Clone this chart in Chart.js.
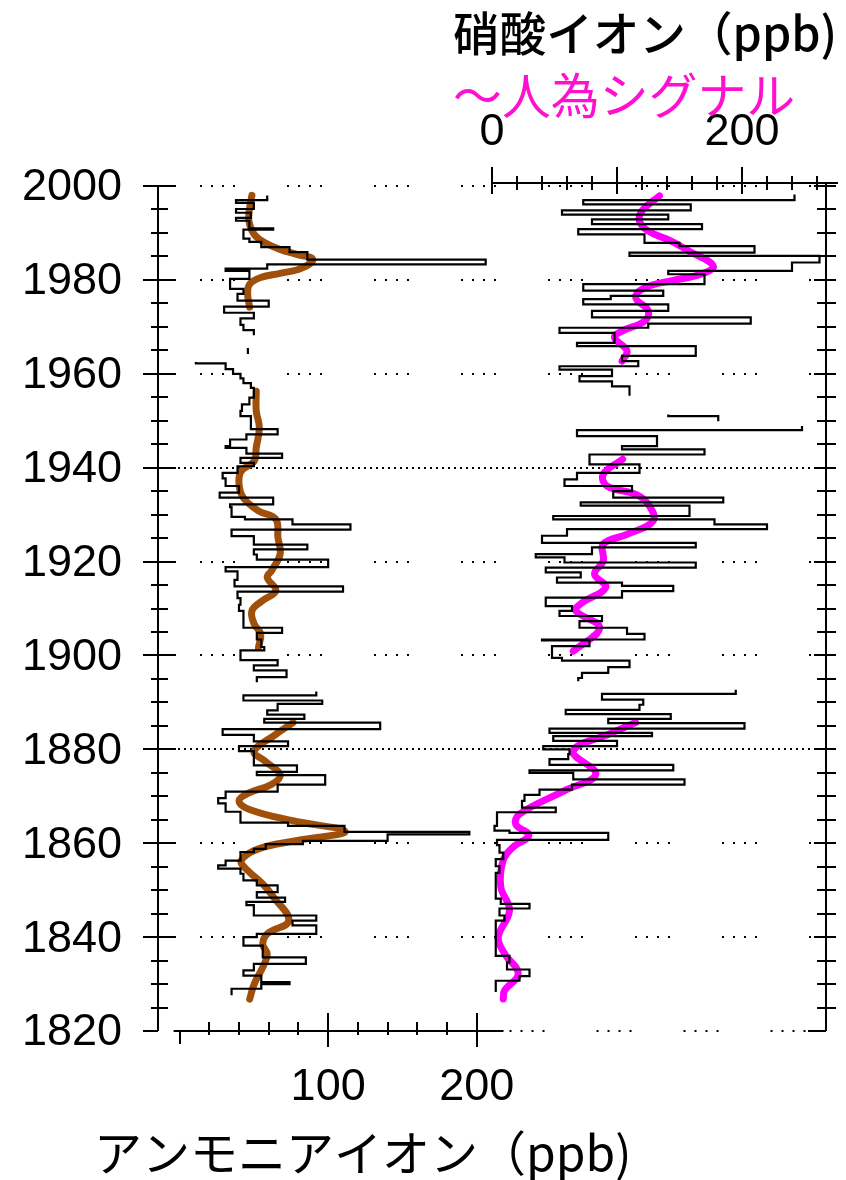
<!DOCTYPE html>
<html>
<head>
<meta charset="utf-8">
<script src="https://cdn.jsdelivr.net/npm/chart.js@4/dist/chart.umd.min.js"></script>
<style>
  body { margin: 0; background: #fff; }
  canvas { display: block; }
</style>
</head>
<body>
<canvas id="chart1" width="846" height="1180"></canvas>
<script>
// ammonium ion steps: value held from year[i] down to year[i+1] (null = no data)
var nh4Years = [1998.0, 1997.0, 1996.4, 1995.1, 1994.3, 1993.2, 1992.6, 1991.0, 1990.7, 1988.8,
  1988.1, 1987.0, 1985.9, 1984.3, 1983.3, 1982.4, 1981.9, 1980.2, 1978.1, 1977.0,
  1975.6, 1974.3, 1973.0, 1971.8, 1970.4, 1969.3, 1968.2, 1965.5, 1964.2, 1962.5,
  1962.2, 1961.0, 1960.0, 1959.0, 1958.0, 1957.0, 1954.9, 1953.5, 1952.1, 1951.0,
  1948.2, 1947.1, 1946.0, 1944.6, 1944.2, 1943.0, 1942.1, 1941.0, 1940.3, 1938.9,
  1937.7, 1936.1, 1934.7, 1933.6, 1932.2, 1931.6, 1929.5, 1929.0, 1927.9, 1926.8,
  1925.4, 1923.6, 1922.6, 1921.5, 1920.4, 1918.8, 1917.9, 1916.1, 1914.7, 1913.6,
  1912.2, 1910.8, 1909.5, 1905.9, 1904.8, 1903.4, 1901.8, 1901.1, 1899.0, 1897.9,
  1896.8, 1895.4, 1894.3, 1892.3, 1891.5, 1890.4, 1889.7, 1888.3, 1887.4, 1886.5,
  1885.7, 1884.3, 1883.1, 1881.7, 1880.7, 1879.6, 1876.6, 1875.2, 1874.5, 1872.5,
  1871.0, 1869.6, 1868.5, 1866.7, 1864.4, 1863.7, 1862.4, 1861.9, 1860.5, 1859.8,
  1858.8, 1858.1, 1856.3, 1855.3, 1854.6, 1853.5, 1852.1, 1851.0, 1849.6, 1848.4,
  1847.5, 1846.8, 1844.6, 1843.5, 1842.5, 1840.7, 1840.0, 1838.2, 1835.7, 1834.3,
  1832.9, 1831.8, 1830.4, 1830.0, 1829.0, 1827.6];
var nh4Ppb = [59, 38, 50, 38, 48, 38, 47, 63, 43, 47,
  55, 74, 86, 206, 59, 31, 47, 34, 43, 39,
  60, 30, 50, 41, 43, 50, null, 46, null, 11,
  31, 36, 41, 43, 48, 50, 47, 42, 41, 48,
  66, 45, 34, 31, 45, 69, 41, 50, 39, 29,
  31, 40, 27, 63, 34, 35, 44, 76, 115, 35,
  50, 86, 50, 52, 100, 31, 39, 37, 110, 39,
  41, 40, 43, 69, 52, 55, 57, 41, 66, 50,
  72, 52, null, 92, 43, 96, 66, 59, 84, 57,
  135, 29, 50, 73, 40, 50, 79, 52, 98, 66,
  31, 26, 31, 41, 73, 111, 195, 140, 83, 58,
  50, 41, 31, 26, 41, 43, 52, 66, 52, 71,
  45, 50, 92, 76, 92, 52, 43, 56, 85, 50,
  43, 55, 74, 55, 35];

// nitrate ion steps
var no3Years = [1998.2, 1997.0, 1996.1, 1994.8, 1993.9, 1992.9, 1991.9, 1990.8, 1989.7, 1987.9,
  1987.2, 1985.8, 1985.1, 1983.7, 1981.9, 1981.2, 1979.1, 1977.7, 1976.6, 1975.9,
  1974.8, 1973.4, 1972.0, 1970.7, 1969.8, 1968.7, 1966.6, 1965.9, 1963.8, 1962.7,
  1961.6, 1960.9, 1959.5, 1958.4, 1957.3, 1955.3, 1951.3, 1951.0, 1949.9, 1948.9,
  1948.0, 1946.7, 1944.6, 1943.9, 1942.8, 1940.7, 1938.9, 1937.5, 1936.1, 1935.0,
  1933.6, 1932.6, 1931.9, 1929.7, 1929.0, 1927.9, 1926.9, 1925.5, 1924.0, 1923.0,
  1921.6, 1920.9, 1919.8, 1918.7, 1917.7, 1916.6, 1915.5, 1914.8, 1913.7, 1912.3,
  1910.5, 1909.5, 1908.4, 1907.3, 1905.9, 1904.6, 1903.4, 1903.2, 1902.0, 1899.5,
  1898.9, 1897.5, 1896.3, 1895.2, 1894.5, 1892.7, 1891.8, 1890.6, 1889.5, 1888.4,
  1887.5, 1886.5, 1885.6, 1884.4, 1883.5, 1882.8, 1881.8, 1880.7, 1880.0, 1879.0,
  1877.9, 1876.7, 1875.5, 1875.0, 1873.6, 1872.5, 1871.4, 1870.3, 1869.0, 1867.6,
  1866.6, 1863.7, 1862.7, 1862.2, 1860.7, 1859.6, 1858.0, 1856.6, 1855.1, 1853.7,
  1848.2, 1847.1, 1846.1, 1844.6, 1843.5, 1836.0, 1834.6, 1833.1, 1831.7, 1830.7,
  1828.3];
var no3Ppb = [242, 73, 159, 56, 141, 80, 168, 69, 122, 150,
  210, 110, 262, 240, 141, 170, 73, 137, 95, 73,
  141, 80, 207, 125, 54, 98, 68, 163, 104, 117,
  54, 96, 70, 96, 110, null, 141, 181, null, 248,
  68, 132, 104, 170, 78, 118, 68, 58, 112, 97,
  185, 71, 158, 49, 178, 220, 60, 40, 163, 80,
  35, 58, 163, 43, 71, 52, 104, 145, 104, 43,
  64, 54, 88, 70, 108, 122, 40, 78, 48, 56,
  110, 93, 72, 69, null, 195, 88, 121, 118, 59,
  143, 93, 202, 46, 128, 49, 100, 41, 62, 61,
  46, 145, 30, 65, 154, 64, 38, 26, 24, 51,
  4, 2, 14, 93, 4, 6, 9, 3, 6, 3,
  7, 30, 6, 10, 3, 14, 12, 30, 22, 3];

// smoothed curves (null = break)
var nh4SmoothYears = [1998.0, 1995.4, 1992.5, 1989.7, 1987.9, 1986.5, 1985.4, 1984.4, 1982.5, 1981.4,
  1980.5, 1979.1, 1977.0, 1974.2, 1965,
  1956.3, 1952.1, 1948.5, 1944.3, 1941.4, 1939.3, 1936.5, 1933.6, 1930.8, 1929.0,
  1925.1, 1921.6, 1918.0, 1916.6, 1913.8, 1911.5, 1909.5, 1906.7, 1904.6, 1901.7, 1894,
  1885.7, 1883.2, 1879.6, 1877.5, 1874.6, 1872.5, 1870.8, 1869.0, 1867.2, 1864.8,
  1862.5, 1860.6, 1858.8, 1856.3, 1854.2, 1851.3, 1848.5, 1843.5, 1840.7, 1838.5,
  1836.4, 1833.6, 1830.0, 1826.8];
var nh4SmoothPpb = [48.7, 47.2, 46.7, 50.2, 57.5, 67.6, 79.3, 89.6, 82.3, 67.6,
  54.6, 47.2, 45.8, 47.2, null,
  51.6, 51.6, 53.7, 51.6, 50.2, 41.5, 40, 42.9, 53.1, 64.8,
  66.2, 67.7, 61.8, 59, 64.8, 55, 48.7, 50.2, 54.6, 53.1, null,
  76.4, 64.8, 50.2, 57.5, 67.7, 61.8, 47.2, 40, 47, 76,
  111.4, 79.3, 53.1, 41.5, 45.8, 56, 63.3, 73.5, 59, 56,
  59, 56, 50.2, 47.2];
var no3SmoothYears = [1997.9, 1994.7, 1992.5, 1990.4, 1988.3, 1986.2, 1983.0, 1981.2, 1979.8, 1978.3,
  1976.2, 1973.4, 1971.2, 1969.1, 1967.7, 1964.9, 1962.7, 1950,
  1941.8, 1938.6, 1936.1, 1934.3, 1932.2, 1928.7, 1925.8, 1923.7, 1920.1, 1917.3,
  1914.5, 1911.2, 1909.5, 1905.9, 1900.9, 1894,
  1885.7, 1883.3, 1879.6, 1874.7, 1871.2, 1866.2, 1864.0, 1861.7, 1859.2, 1856.4,
  1850.7, 1845.7, 1840.0, 1836.5, 1832.2, 1828.6, 1826.8];
var no3SmoothPpb = [134, 120, 118, 125, 143, 157, 177, 167, 143, 122,
  115, 125, 122, 104, 98, 108, 104, null,
  104.5, 89, 92, 115, 125, 129, 108, 89, 89, 82,
  91, 72, 67, 86, 65, null,
  115, 94, 65, 83, 58, 22, 19, 29.5, 17, 9,
  7, 14, 5, 10, 21, 10, 9];

var yearTicks = [2000, 1980, 1960, 1940, 1920, 1900, 1880, 1860, 1840, 1820];
var refYears = [1940, 1880];
var nh4TickLabels = [100, 200];
var no3TickLabels = [0, 200];

function stepPoints(years, vals) {
  var pts = [];
  for (var i = 0; i < vals.length; i++) {
    if (vals[i] === null) { pts.push({x: null, y: years[i]}); continue; }
    pts.push({x: vals[i], y: years[i]});
    if (i + 1 === vals.length || vals[i + 1] === null) pts.push({x: vals[i], y: years[i + 1]});
  }
  return pts;
}

function curvePoints(years, vals) {
  return years.map(function(y, i) { return {x: vals[i], y: y}; });
}

function fitText(ctx, text, x, y, width, family, color, weight) {
  ctx.save();
  var w = weight ? weight + ' ' : '';
  ctx.font = w + '40px ' + family;
  var size = 40 * width / ctx.measureText(text).width;
  ctx.font = w + size.toFixed(1) + 'px ' + family;
  ctx.fillStyle = color;
  ctx.textAlign = 'left';
  ctx.textBaseline = 'middle';
  ctx.fillText(text, x, y);
  ctx.restore();
}

function hline(ctx, x1, x2, y, dash, w) {
  ctx.save();
  ctx.setLineDash(dash || []);
  ctx.lineWidth = w || 2;
  ctx.beginPath();
  ctx.moveTo(x1, y);
  ctx.lineTo(x2, y);
  ctx.stroke();
  ctx.restore();
}

function vline(ctx, x, y1, y2, w) {
  ctx.save();
  ctx.lineWidth = w || 2;
  ctx.beginPath();
  ctx.moveTo(x, y1);
  ctx.lineTo(x, y2);
  ctx.stroke();
  ctx.restore();
}

var frame = {
  id: 'frame',
  beforeDatasetsDraw: function(chart) {
    var ctx = chart.ctx, ys = chart.scales.y, xb = chart.scales.x;
    ctx.strokeStyle = '#000';
    yearTicks.forEach(function(yr) {
      var py = Math.round(ys.getPixelForValue(yr));
      if (refYears.indexOf(yr) >= 0) {
        hline(ctx, 172, 812, py, [2, 4], 2);
      } else {
        var start = yr === 1820 ? xb.getPixelForValue(218) + 6 : 200;
        hline(ctx, start, 812, py, [2, 9, 2, 9, 2, 9, 2, 52], 2);
      }
    });
  },
  afterDatasetsDraw: function(chart) {
    var ctx = chart.ctx, a = chart.chartArea;
    var ys = chart.scales.y, xb = chart.scales.x, xt = chart.scales.x2;
    ctx.strokeStyle = '#000';
    // left and right year axes
    vline(ctx, a.left, ys.getPixelForValue(2000), ys.getPixelForValue(1820), 2);
    vline(ctx, a.right, xt.bottom - 3, ys.getPixelForValue(1820), 2);
    for (var yr = 1820; yr <= 2000; yr += 5) {
      var py = Math.round(ys.getPixelForValue(yr));
      var major = yr % 20 === 0;
      if (yr === 1820) {
        hline(ctx, a.left - 15, a.left, py, [], 2);
        hline(ctx, a.right - 18, a.right, py, [], 2);
      } else if (major) {
        hline(ctx, a.left - 15, a.left + 18, py, [], 2);
        hline(ctx, a.right - 12, a.right + 10, py, [], 2);
      } else {
        hline(ctx, a.left - 7, a.left + 10, py, [], 2);
        hline(ctx, a.right - 9, a.right + 10, py, [], 2);
      }
    }
    // top nitrate axis
    var ty = a.top - 3;
    hline(ctx, xt.getPixelForValue(0), a.right + 12, ty, [], 2);
    for (var v = 0; v <= 260; v += 20) {
      var px = Math.round(xt.getPixelForValue(v));
      if (v % 100 === 0) vline(ctx, px, ty - 16, ty + 11, 2);
      else vline(ctx, px, ty - 7, ty + 7, 2);
    }
    // bottom ammonium axis
    var by = a.bottom;
    hline(ctx, xb.getPixelForValue(-4), xb.getPixelForValue(218), by, [], 2);
    for (var w = 0; w <= 200; w += 20) {
      var qx = Math.round(xb.getPixelForValue(w));
      if (w === 0) vline(ctx, qx, by, by + 13, 2);
      else if (w % 100 === 0) vline(ctx, qx, by - 18, by + 16, 2);
      else vline(ctx, qx, by - 9, by + 4, 2);
    }
    // titles
    var jp = '"Noto Sans CJK JP", sans-serif';
    fitText(ctx, '硝酸イオン（ppb)', 453, 33, 384, jp, '#000', '500');
    fitText(ctx, '〜人為シグナル', 453, 95, 342, jp, '#ff10d0');
    fitText(ctx, 'アンモニアイオン（ppb)', 94, 1153, 537, jp, '#000');
  }
};

var numFont = {family: '"Liberation Sans", Arial, sans-serif', size: 45};

var ctx = document.getElementById('chart1').getContext('2d');
var chart1 = new Chart(ctx, {
  type: 'line',
  data: {
    datasets: [{
      label: 'NH4 steps',
      data: stepPoints(nh4Years, nh4Ppb),
      xAxisID: 'x', yAxisID: 'y',
      stepped: 'after',
      borderColor: '#000', borderWidth: 2.2,
      pointRadius: 0, fill: false, spanGaps: false
    }, {
      label: 'NO3 steps',
      data: stepPoints(no3Years, no3Ppb),
      xAxisID: 'x2', yAxisID: 'y',
      stepped: 'after',
      borderColor: '#000', borderWidth: 2.2,
      pointRadius: 0, fill: false, spanGaps: false
    }, {
      label: 'NH4 smooth',
      data: curvePoints(nh4SmoothYears, nh4SmoothPpb),
      xAxisID: 'x', yAxisID: 'y',
      borderColor: '#a0500a', borderWidth: 7, tension: 0.4,
      borderCapStyle: 'round', borderJoinStyle: 'round',
      pointRadius: 0, fill: false, spanGaps: false
    }, {
      label: 'NO3 smooth',
      data: curvePoints(no3SmoothYears, no3SmoothPpb),
      xAxisID: 'x2', yAxisID: 'y',
      borderColor: '#ff00ff', borderWidth: 7, tension: 0.4,
      borderCapStyle: 'round', borderJoinStyle: 'round',
      pointRadius: 0, fill: false, spanGaps: false
    }]
  },
  options: {
    responsive: false,
    animation: false,
    layout: {padding: {left: 0, right: 20, top: 0, bottom: 0}},
    plugins: {legend: {display: false}, tooltip: {enabled: false}},
    scales: {
      y: {
        type: 'linear', position: 'left', min: 1820, max: 2000,
        afterBuildTicks: function(s) { s.ticks = yearTicks.map(function(v) { return {value: v}; }); },
        afterFit: function(s) { s.width = 158; },
        ticks: {font: numFont, color: '#000', padding: 36, labelOffset: 2, autoSkip: false,
          callback: function(v) { return String(v); }},
        grid: {display: false, drawTicks: false},
        border: {display: false}
      },
      x: {
        type: 'linear', position: 'bottom', min: -14.5, max: 435,
        afterBuildTicks: function(s) { s.ticks = nh4TickLabels.map(function(v) { return {value: v}; }); },
        afterFit: function(s) { s.height = 149; },
        ticks: {font: numFont, color: '#000', padding: 30, maxRotation: 0, autoSkip: false,
          callback: function(v) { return String(v); }},
        grid: {display: false, drawTicks: false},
        border: {display: false}
      },
      x2: {
        type: 'linear', position: 'top', min: -267.2, max: 267.2,
        afterBuildTicks: function(s) { s.ticks = no3TickLabels.map(function(v) { return {value: v}; }); },
        afterFit: function(s) { s.height = 186; },
        ticks: {font: numFont, color: '#000', padding: 26, maxRotation: 0, autoSkip: false,
          callback: function(v) { return String(v); }},
        grid: {display: false, drawTicks: false},
        border: {display: false}
      }
    }
  },
  plugins: [frame]
});
</script>
</body>
</html>
